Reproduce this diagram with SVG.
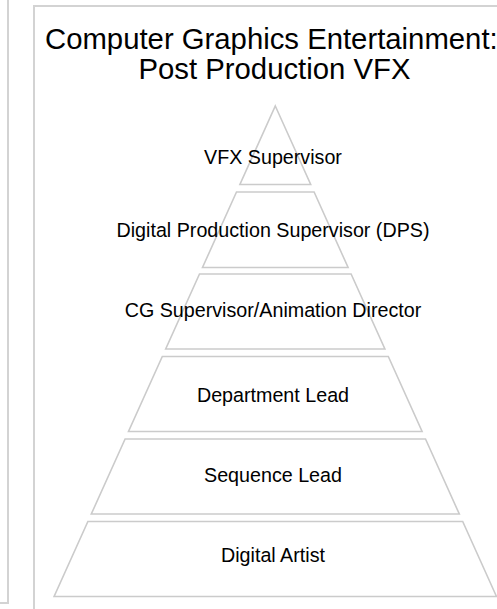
<svg xmlns="http://www.w3.org/2000/svg" width="497" height="609" viewBox="0 0 497 609">
<style>
.panel{fill:#fff;stroke:#d3d3d3;stroke-width:2}
.seg{fill:#fff;stroke:#cbcbcb;stroke-width:1.6;stroke-linejoin:miter}
.lbl{font-family:"Liberation Sans",Arial,Helvetica,sans-serif;font-size:19.7px;fill:#000;text-anchor:middle}
.title{font-family:"Liberation Sans",Arial,Helvetica,sans-serif;font-size:29.3px;fill:#000}
</style>
<rect width="497" height="609" fill="#fff"/>
<g id="panel-left"><rect class="panel" x="-500" y="-10" width="508" height="613"/></g>
<g id="panel-main">
<rect class="panel" x="34" y="6" width="500" height="700"/>
<text class="title" x="45" y="49.3">Computer Graphics Entertainment:</text>
<text class="title" x="138.5" y="79">Post Production VFX</text>
</g>
<g id="connectors"></g>
<g id="node-vfx-supervisor">
<polygon class="seg" points="275.3,106 310.7,184.5 239.9,184.5"/>
<text class="lbl" x="273" y="164.3">VFX Supervisor</text>
</g>
<g id="node-dps">
<polygon class="seg" points="236.5,192 314.1,192 348.1,267.5 202.5,267.5"/>
<text class="lbl" x="273" y="236.7">Digital Production Supervisor (DPS)</text>
</g>
<g id="node-cg-supervisor">
<polygon class="seg" points="199.5,274 351.1,274 384.9,349 165.7,349"/>
<text class="lbl" x="273" y="316.7">CG Supervisor/Animation Director</text>
</g>
<g id="node-department-lead">
<polygon class="seg" points="162.3,356.5 388.3,356.5 422.1,431.5 128.5,431.5"/>
<text class="lbl" x="273" y="401.7">Department Lead</text>
</g>
<g id="node-sequence-lead">
<polygon class="seg" points="125.1,439 425.5,439 459.3,514 91.3,514"/>
<text class="lbl" x="273" y="481.5">Sequence Lead</text>
</g>
<g id="node-digital-artist">
<polygon class="seg" points="87.9,521.5 462.7,521.5 496.5,596.5 54.1,596.5"/>
<text class="lbl" x="273" y="561.5">Digital Artist</text>
</g>
</svg>
